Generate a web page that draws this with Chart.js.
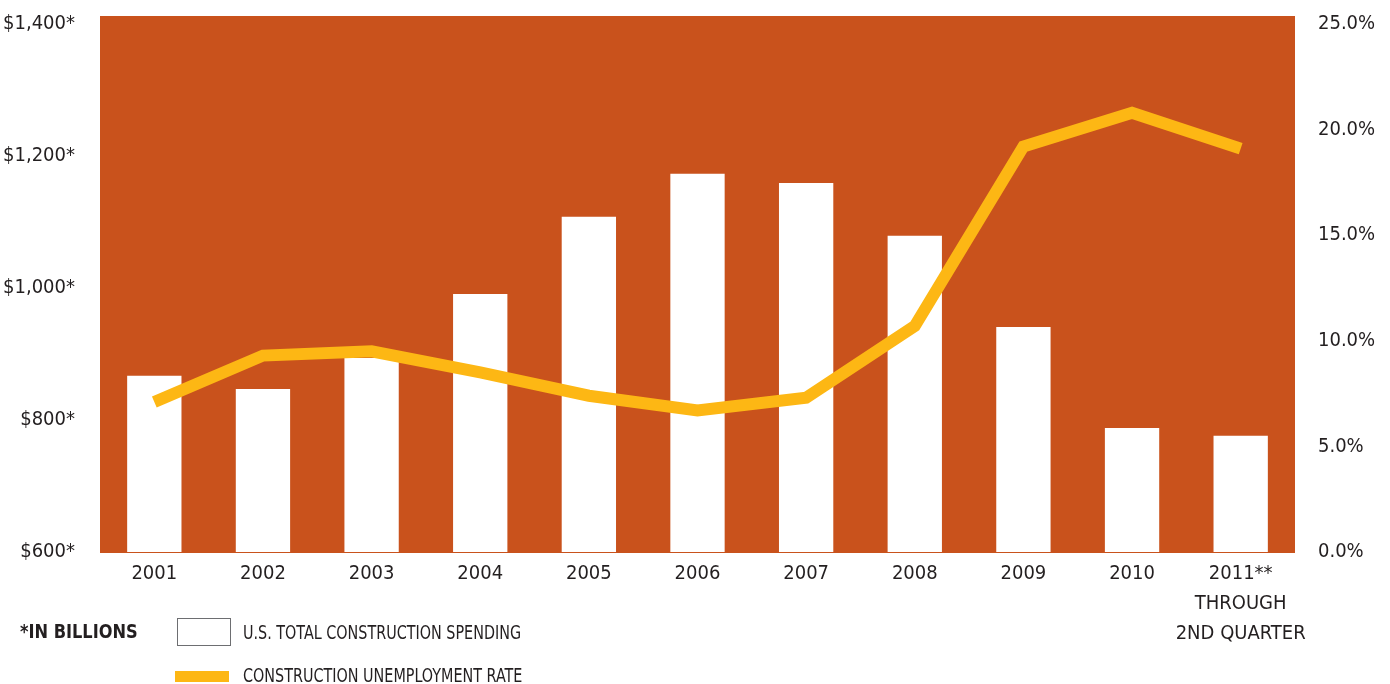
<!DOCTYPE html>
<html>
<head>
<meta charset="utf-8">
<script src="https://cdn.jsdelivr.net/npm/chart.js@4.4.0/dist/chart.umd.min.js"></script>
<style>
	body { margin: 0; background: #fff; }
	#wrap { position: relative; width: 1390px; height: 684px; }
	.lg { position: absolute; font-family: "DejaVu Sans", sans-serif; font-stretch: condensed; color: #231f20; font-size: 19px; line-height: 20px; transform: scaleX(0.84); transform-origin: left center; white-space: nowrap; }
	.sw { position: absolute; }
</style>
</head>
<body>
<div id="wrap">
	<canvas id="chart" width="1390" height="684"></canvas>
	<div class="lg" style="left:20px; top:621px; font-weight:bold; font-size:20px; transform:scaleX(0.9);">*IN BILLIONS</div>
	<div class="sw" style="left:177px; top:618px; width:52px; height:26px; border:1px solid #6d6e71; background:#fff;"></div>
	<div class="lg" style="left:243px; top:622px;">U.S. TOTAL CONSTRUCTION SPENDING</div>
	<div class="sw" style="left:175px; top:671px; width:54px; height:11px; background:#fdb714;"></div>
	<div class="lg" style="left:243px; top:665px;">CONSTRUCTION UNEMPLOYMENT RATE</div>
</div>
<script>
const years = ["2001", "2002", "2003", "2004", "2005", "2006", "2007", "2008", "2009", "2010", ["2011**", "THROUGH", "2ND QUARTER"]];
const spending = [867, 847, 894, 991, 1108, 1173, 1159, 1079, 941, 788, 776];
const unemployment = [7.1, 9.3, 9.5, 8.5, 7.4, 6.7, 7.3, 10.7, 19.2, 20.8, 19.1];

const fontFamily = '"DejaVu Sans", sans-serif';
const textColor = "#231f20";

const canvas = document.getElementById("chart");
const ctx = canvas.getContext("2d");
// canvas font shorthand drops font-stretch, so set it before each text call
["fillText", "measureText"].forEach((fn) => {
	const orig = ctx[fn];
	ctx[fn] = function (...args) {
		this.fontStretch = "condensed";
		return orig.apply(this, args);
	};
});

const plotBg = {
	id: "plotBg",
	beforeDraw(chart) {
		const a = chart.chartArea;
		const c = chart.ctx;
		c.save();
		c.fillStyle = "#c9521c";
		c.fillRect(a.left, a.top - 8, a.right - a.left, a.bottom - a.top + 9);
		c.restore();
	},
};

function fixY(width) {
	return (scale) => {
		scale.width = width;
		scale.paddingTop = 0;
		scale.paddingBottom = 0;
	};
}

new Chart(ctx, {
	type: "bar",
	data: {
		labels: years,
		datasets: [
			{
				type: "line",
				label: "CONSTRUCTION UNEMPLOYMENT RATE",
				data: unemployment,
				yAxisID: "y1",
				borderColor: "#fdb714",
				borderWidth: 12,
				pointRadius: 0,
				pointHoverRadius: 0,
				tension: 0,
				borderJoinStyle: "miter",
				order: 0,
			},
			{
				label: "U.S. TOTAL CONSTRUCTION SPENDING",
				data: spending,
				yAxisID: "y",
				backgroundColor: "#ffffff",
				borderWidth: 0,
				barPercentage: 0.5,
				categoryPercentage: 1,
				order: 1,
			},
		],
	},
	options: {
		responsive: false,
		animation: false,
		layout: { autoPadding: false, padding: { top: 24, bottom: 0, left: 0, right: 0 } },
		plugins: {
			legend: { display: false },
			tooltip: { enabled: false },
		},
		scales: {
			x: {
				grid: { display: false, drawTicks: false },
				border: { display: false },
				ticks: {
					color: textColor,
					font: { family: fontFamily, size: 20, lineHeight: 1.5 },
					padding: 7,
					maxRotation: 0,
					autoSkip: false,
				},
				afterFit(scale) { scale.height = 132; },
			},
			y: {
				position: "left",
				min: 600,
				max: 1400,
				grid: { display: false, drawTicks: false },
				border: { display: false },
				ticks: {
					stepSize: 200,
					color: textColor,
					font: { family: fontFamily, size: 20 },
					padding: 25,
					callback: (v) => "$" + v.toLocaleString("en-US") + "*",
				},
				afterFit: fixY(100),
			},
			y1: {
				position: "right",
				min: 0,
				max: 25,
				grid: { display: false, drawTicks: false },
				border: { display: false },
				ticks: {
					stepSize: 5,
					color: textColor,
					font: { family: fontFamily, size: 20 },
					padding: 23,
					callback: (v) => v.toFixed(1) + "%",
				},
				afterFit: fixY(95),
			},
		},
	},
	plugins: [plotBg],
});
</script>
</body>
</html>
